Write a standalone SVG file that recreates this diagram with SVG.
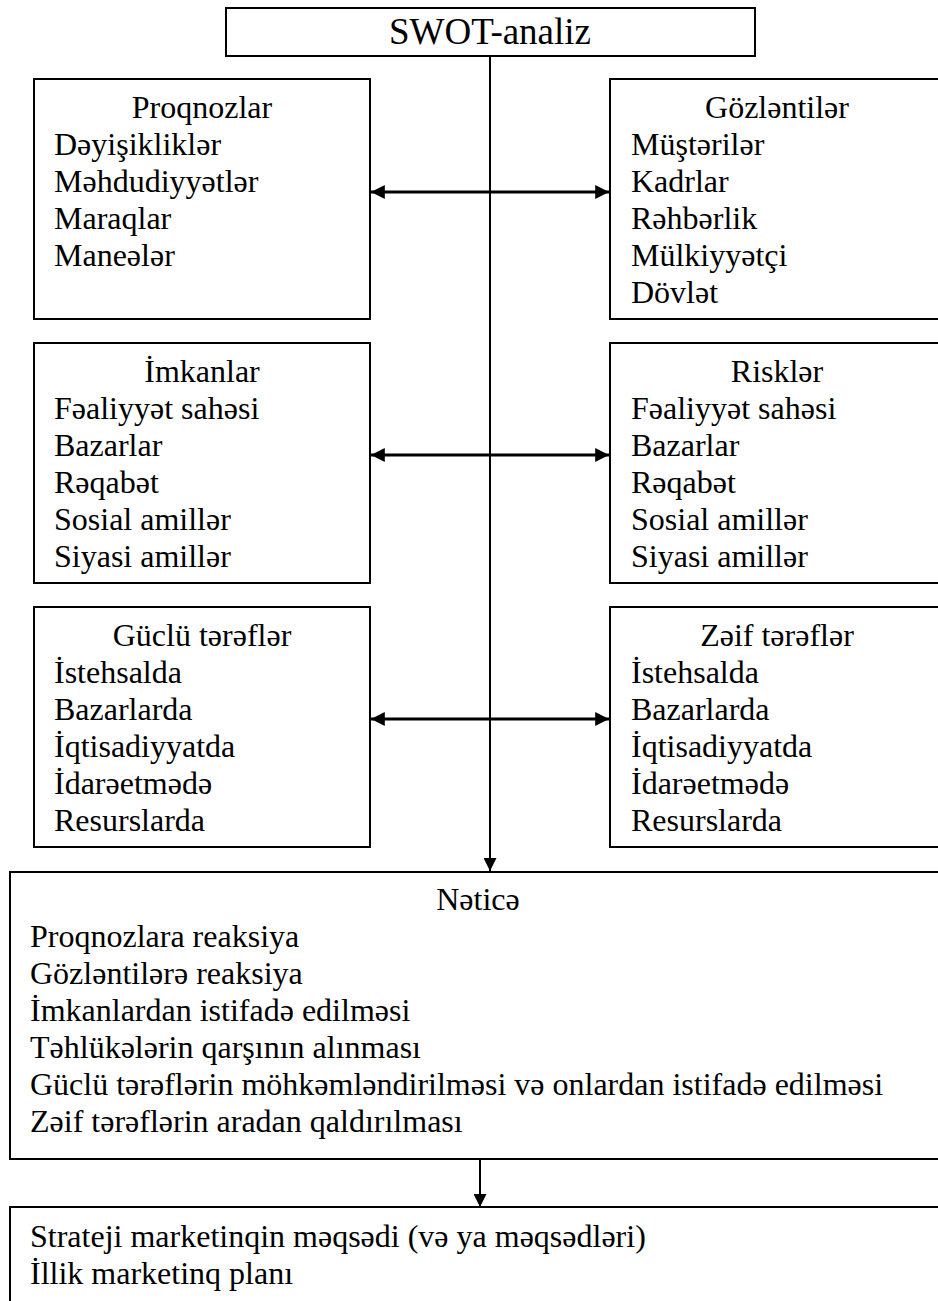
<svg xmlns="http://www.w3.org/2000/svg" width="938" height="1301" viewBox="0 0 938 1301">
<defs>
<style>
.box{fill:#fff;stroke:#000;stroke-width:2}
text{font-family:"Liberation Serif","Times New Roman",serif;font-size:32px;fill:#000}
.c{text-anchor:middle}
.h{stroke:#000;stroke-width:3;fill:none}
.v{stroke:#000;stroke-width:2;fill:none}
</style>
<marker id="ah" viewBox="0 0 10 10" refX="10" refY="5" markerWidth="5" markerHeight="4.6" markerUnits="strokeWidth" orient="auto-start-reverse">
<path d="M0,0 L10,5 L0,10 z" fill="#000"/>
</marker>
<marker id="av" viewBox="0 0 10 10" refX="10" refY="5" markerWidth="8" markerHeight="6.5" markerUnits="strokeWidth" orient="auto">
<path d="M0,0 L10,5 L0,10 z" fill="#000"/>
</marker>
</defs>
<rect width="938" height="1301" fill="#fff"/>

<g id="connectors">
<line class="v" x1="490" y1="56" x2="490" y2="871" marker-end="url(#av)"/>
<line class="h" x1="371" y1="192" x2="609" y2="192" marker-start="url(#ah)" marker-end="url(#ah)"/>
<line class="h" x1="371" y1="455" x2="609" y2="455" marker-start="url(#ah)" marker-end="url(#ah)"/>
<line class="h" x1="371" y1="719" x2="609" y2="719" marker-start="url(#ah)" marker-end="url(#ah)"/>
<line class="v" x1="480" y1="1159" x2="480" y2="1207" marker-end="url(#av)"/>
</g>

<g id="swot">
<rect class="box" x="226" y="8" width="529" height="48"/>
<text x="490" y="44" class="c" style="font-size:37px">SWOT-analiz</text>
</g>

<g id="proqnozlar">
<rect class="box" x="34" y="79" width="336" height="240"/>
<text x="202" y="118" class="c">Proqnozlar</text>
<text x="54" y="155">Dəyişikliklər</text>
<text x="54" y="192">Məhdudiyyətlər</text>
<text x="54" y="229">Maraqlar</text>
<text x="54" y="266">Maneələr</text>
</g>

<g id="gozlentiler">
<rect class="box" x="610" y="79" width="336" height="240"/>
<text x="777" y="118" class="c">Gözləntilər</text>
<text x="631" y="155">Müştərilər</text>
<text x="631" y="192">Kadrlar</text>
<text x="631" y="229">Rəhbərlik</text>
<text x="631" y="266">Mülkiyyətçi</text>
<text x="631" y="303">Dövlət</text>
</g>

<g id="imkanlar">
<rect class="box" x="34" y="343" width="336" height="240"/>
<text x="202" y="382" class="c">İmkanlar</text>
<text x="54" y="419">Fəaliyyət sahəsi</text>
<text x="54" y="456">Bazarlar</text>
<text x="54" y="493">Rəqabət</text>
<text x="54" y="530">Sosial amillər</text>
<text x="54" y="567">Siyasi amillər</text>
</g>

<g id="riskler">
<rect class="box" x="610" y="343" width="336" height="240"/>
<text x="777" y="382" class="c">Risklər</text>
<text x="631" y="419">Fəaliyyət sahəsi</text>
<text x="631" y="456">Bazarlar</text>
<text x="631" y="493">Rəqabət</text>
<text x="631" y="530">Sosial amillər</text>
<text x="631" y="567">Siyasi amillər</text>
</g>

<g id="guclu">
<rect class="box" x="34" y="607" width="336" height="240"/>
<text x="202" y="646" class="c">Güclü tərəflər</text>
<text x="54" y="683">İstehsalda</text>
<text x="54" y="720">Bazarlarda</text>
<text x="54" y="757">İqtisadiyyatda</text>
<text x="54" y="794">İdarəetmədə</text>
<text x="54" y="831">Resurslarda</text>
</g>

<g id="zeif">
<rect class="box" x="610" y="607" width="336" height="240"/>
<text x="777" y="646" class="c">Zəif tərəflər</text>
<text x="631" y="683">İstehsalda</text>
<text x="631" y="720">Bazarlarda</text>
<text x="631" y="757">İqtisadiyyatda</text>
<text x="631" y="794">İdarəetmədə</text>
<text x="631" y="831">Resurslarda</text>
</g>

<g id="netice">
<rect class="box" x="10" y="872" width="937" height="287"/>
<text x="478" y="910" class="c">Nəticə</text>
<text x="30" y="947">Proqnozlara reaksiya</text>
<text x="30" y="984">Gözləntilərə reaksiya</text>
<text x="30" y="1021">İmkanlardan istifadə edilməsi</text>
<text x="30" y="1058">Təhlükələrin qarşının alınması</text>
<text x="30" y="1095">Güclü tərəflərin möhkəmləndirilməsi və onlardan istifadə edilməsi</text>
<text x="30" y="1132">Zəif tərəflərin aradan qaldırılması</text>
</g>

<g id="strategiya">
<rect class="box" x="10" y="1207" width="937" height="110"/>
<text x="30" y="1247">Strateji marketinqin məqsədi (və ya məqsədləri)</text>
<text x="30" y="1284">İllik marketinq planı</text>
</g>
</svg>
